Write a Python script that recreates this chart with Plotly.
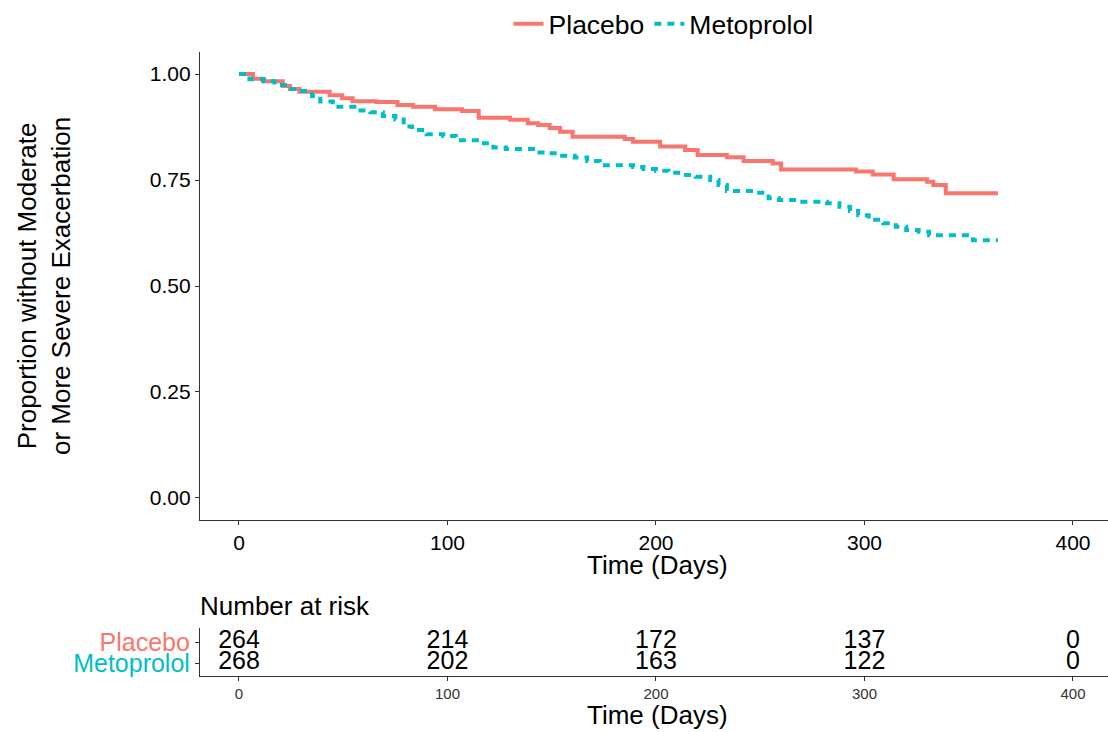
import plotly.graph_objects as go

# Kaplan-Meier step estimates (days, survival) read per arm
placebo_t = [0, 6.7, 11.5, 21, 24.5, 29, 43.5, 49.5, 54.5, 66, 76, 83.5, 94, 107, 115,
             130, 138.5, 143.5, 149, 154, 160, 185, 189, 202, 214, 220, 234, 242, 256,
             260, 296, 304, 314, 330, 333, 339, 364]
placebo_s = [1.0, 0.989, 0.983, 0.972, 0.965, 0.958, 0.950, 0.943, 0.936, 0.934, 0.927,
             0.923, 0.917, 0.913, 0.897, 0.892, 0.884, 0.880, 0.873, 0.864, 0.852, 0.847,
             0.840, 0.829, 0.821, 0.809, 0.804, 0.795, 0.789, 0.775, 0.770, 0.763, 0.752,
             0.746, 0.738, 0.719, 0.719]

metoprolol_t = [0, 5, 12, 17, 24, 29, 35, 39, 45, 57, 63, 69, 75, 79, 83, 90, 98, 104,
                116, 122, 128, 142, 149, 155, 161, 167, 173, 189, 194, 200, 206, 213, 219,
                226, 230, 234, 247, 254, 259, 268, 282, 288, 293, 297, 302, 309, 315, 320,
                326, 331, 352, 364]
metoprolol_s = [1.0, 0.988, 0.983, 0.974, 0.965, 0.960, 0.948, 0.935, 0.923, 0.914, 0.910,
                0.901, 0.893, 0.876, 0.868, 0.858, 0.854, 0.844, 0.837, 0.827, 0.823, 0.815,
                0.813, 0.807, 0.803, 0.795, 0.785, 0.781, 0.776, 0.772, 0.767, 0.762, 0.758,
                0.750, 0.738, 0.724, 0.720, 0.707, 0.703, 0.699, 0.695, 0.687, 0.677, 0.667,
                0.656, 0.648, 0.640, 0.632, 0.628, 0.620, 0.608, 0.608]

# Number-at-risk table
risk_times = [0, 100, 200, 300, 400]
risk_placebo = [264, 214, 172, 137, 0]
risk_metoprolol = [268, 202, 163, 122, 0]

x_ticks = [0, 100, 200, 300, 400]
y_ticks = [0.00, 0.25, 0.50, 0.75, 1.00]

RED = "#F8766D"
TEAL = "#00BFC4"
FONT = "Liberation Sans, Arial, sans-serif"
W, H = 1108, 732

fig = go.Figure()

fig.add_trace(go.Scatter(
    x=placebo_t, y=placebo_s, mode="lines", name="Placebo",
    line=dict(color=RED, width=4, shape="hv"),
    xaxis="x", yaxis="y"))
fig.add_trace(go.Scatter(
    x=metoprolol_t, y=metoprolol_s, mode="lines", name="Metoprolol",
    line=dict(color=TEAL, width=4, shape="hv", dash="7px,6px"),
    xaxis="x", yaxis="y"))

# risk table rows: Placebo on row 2, Metoprolol on row 1
fig.add_trace(go.Scatter(
    x=risk_times, y=[2] * len(risk_times), mode="text",
    text=[str(v) for v in risk_placebo], textposition="middle center",
    textfont=dict(size=25, color="black", family=FONT),
    showlegend=False, hoverinfo="skip", xaxis="x2", yaxis="y2"))
fig.add_trace(go.Scatter(
    x=risk_times, y=[1] * len(risk_times), mode="text",
    text=[str(v) for v in risk_metoprolol], textposition="middle center",
    textfont=dict(size=25, color="black", family=FONT),
    showlegend=False, hoverinfo="skip", xaxis="x2", yaxis="y2"))

x_range = [-18.7, 416.8]
axis_common = dict(showline=True, linecolor="#333333", linewidth=1.2, ticks="outside",
                   ticklen=4, tickcolor="#333333", showgrid=False, zeroline=False)

px_to_paper = lambda py: 1 - py / H

fig.update_layout(
    width=W, height=H,
    margin=dict(l=0, r=0, t=0, b=0),
    paper_bgcolor="white", plot_bgcolor="white",
    font=dict(family=FONT, color="black"),
    xaxis=dict(domain=[200 / W, 1], range=x_range, tickvals=x_ticks,
               tickfont=dict(size=21, color="black"), anchor="y", **axis_common),
    yaxis=dict(domain=[px_to_paper(520), px_to_paper(52)], range=[-0.052, 1.052],
               tickvals=y_ticks, ticktext=[f"{v:.2f}" for v in y_ticks],
               tickfont=dict(size=21, color="black"), anchor="x", **axis_common),
    xaxis2=dict(domain=[200 / W, 1], range=x_range, tickvals=x_ticks,
                tickfont=dict(size=15, color="#333333"), anchor="y2", **axis_common),
    yaxis2=dict(domain=[px_to_paper(676), px_to_paper(628)], range=[0.38, 2.67],
                tickvals=[1, 2],
                ticktext=[f"<span style='color:{TEAL}'>Metoprolol</span>",
                          f"<span style='color:{RED}'>Placebo</span>"],
                tickfont=dict(size=25), anchor="x2", **axis_common),
    legend=dict(orientation="h", x=0.459, xanchor="left", y=1.0, yanchor="top",
                font=dict(size=26.5, color="black"), bgcolor="rgba(0,0,0,0)"),
    showlegend=True,
)

annotations = [
    dict(text="Time (Days)", x=657 / W, y=px_to_paper(565), xref="paper", yref="paper",
         showarrow=False, font=dict(size=26), xanchor="center", yanchor="middle"),
    dict(text="Proportion without Moderate<br>or More Severe Exacerbation",
         x=44 / W, y=px_to_paper(286), xref="paper", yref="paper", textangle=-90,
         showarrow=False, font=dict(size=26), xanchor="center", yanchor="middle"),
    dict(text="Number at risk", x=198 / W, y=px_to_paper(606), xref="paper", yref="paper",
         showarrow=False, font=dict(size=26), xanchor="left", yanchor="middle"),
    dict(text="Time (Days)", x=657 / W, y=px_to_paper(715), xref="paper", yref="paper",
         showarrow=False, font=dict(size=26), xanchor="center", yanchor="middle"),
]
fig.update_layout(annotations=annotations)

fig.write_html("out.html")
